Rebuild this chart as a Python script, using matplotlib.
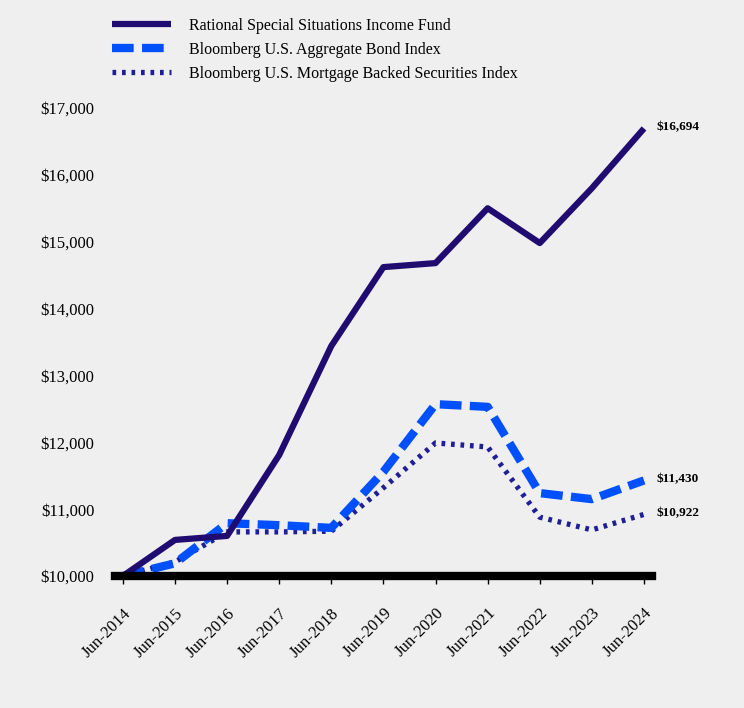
import matplotlib.pyplot as plt

plt.rcParams['font.family'] = ['Liberation Serif', 'DejaVu Serif']

years = ['Jun-2014', 'Jun-2015', 'Jun-2016', 'Jun-2017', 'Jun-2018', 'Jun-2019',
         'Jun-2020', 'Jun-2021', 'Jun-2022', 'Jun-2023', 'Jun-2024']
fund = [10000, 10540, 10600, 11810, 13440, 14620, 14680, 15500, 14980, 15800, 16694]
agg_bond = [10000, 10190, 10790, 10760, 10720, 11560, 12570, 12530, 11240, 11150, 11430]
mbs = [10000, 10210, 10660, 10660, 10670, 11320, 11990, 11930, 10880, 10690, 10922]
y_ticks = [10000, 11000, 12000, 13000, 14000, 15000, 16000, 17000]

bg = '#EFEFEF'
fig = plt.figure(figsize=(7.44, 7.08), dpi=100, facecolor=bg)
ax = fig.add_axes([0.1546, 0.1864, 0.7215, 0.6611], facecolor=bg)

x = list(range(len(years)))
l1, = ax.plot(x, fund, color='#200C70', lw=4.5, solid_capstyle='butt',
              label='Rational Special Situations Income Fund', zorder=4)
l2, = ax.plot(x, agg_bond, color='#0050FF', lw=6, dashes=(2.6, 1.0),
              label='Bloomberg U.S. Aggregate Bond Index', zorder=3)
l3, = ax.plot(x, mbs, color='#1E1E96', lw=3.8, dashes=(0.7, 1.1),
              label='Bloomberg U.S. Mortgage Backed Securities Index', zorder=2)

ax.set_xlim(-0.15, 10.15)
ax.set_ylim(10000, 17000)
ax.set_xticks(x)
ax.set_xticklabels(years, rotation=45, ha='right', rotation_mode='anchor', fontsize=12)
ax.set_yticks(y_ticks)
ax.set_yticklabels(['${:,}'.format(v) for v in y_ticks], fontsize=12)
ax.tick_params(axis='y', length=0, pad=15)
ax.tick_params(axis='x', length=6, width=1, pad=15, color='black')

for side in ['top', 'right', 'left']:
    ax.spines[side].set_visible(False)
ax.spines['bottom'].set_linewidth(6)
ax.spines['bottom'].set_zorder(5)

for series in [fund, agg_bond, mbs]:
    ax.annotate('${:,}'.format(series[-1]), xy=(x[-1], series[-1]), xytext=(9, 1),
                textcoords='offset points', fontsize=9.5, fontweight='bold', va='center', ha='left')

fig.legend(handles=[l1, l2, l3], loc='upper left', bbox_to_anchor=(0.131, 0.995),
           frameon=False, fontsize=11.5, handlelength=3.7, handletextpad=1.1, labelspacing=0.5)

fig.savefig('out.png', dpi=100, facecolor=bg)
